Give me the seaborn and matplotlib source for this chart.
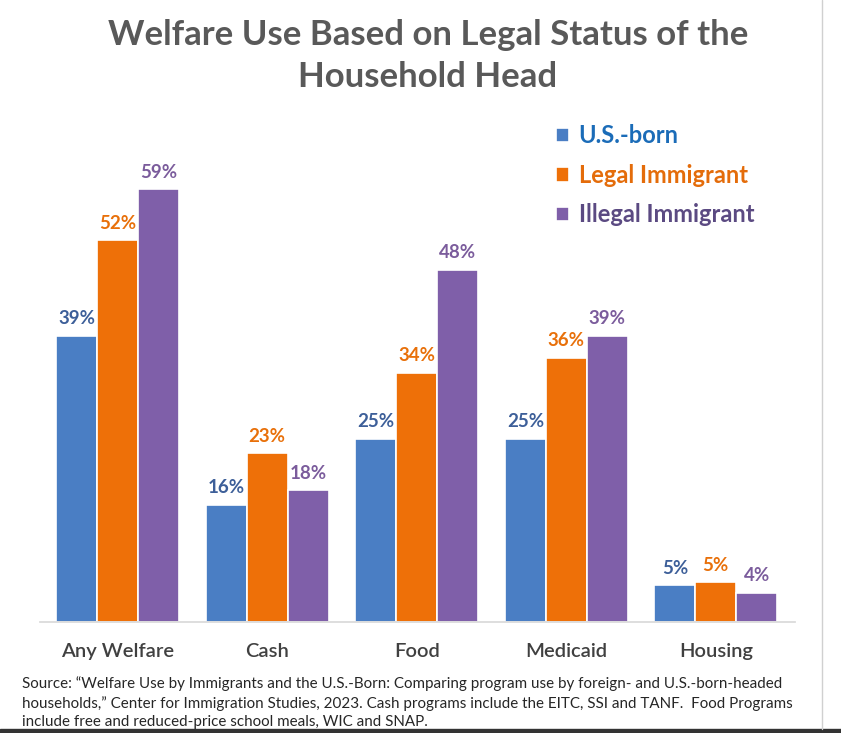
import matplotlib
matplotlib.use("Agg")
import matplotlib.pyplot as plt
import pandas as pd
import seaborn as sns

# Data
categories = ["Any Welfare", "Cash", "Food", "Medicaid", "Housing"]
series = ["U.S.-born", "Legal Immigrant", "Illegal Immigrant"]
us_born = [39, 16, 25, 25, 5]
legal = [52, 23, 34, 36, 5.4]
illegal = [59, 18, 48, 39, 4]
labels_us = ["39%", "16%", "25%", "25%", "5%"]
labels_legal = ["52%", "23%", "34%", "36%", "5%"]
labels_illegal = ["59%", "18%", "48%", "39%", "4%"]

bar_colors = ["#4A7EC4", "#EE7008", "#7F5FA9"]
label_colors = ["#3D5F99", "#E8700A", "#7B5C9C"]
legend_colors = ["#1B6CB8", "#E46C0A", "#5B4A82"]

df = pd.DataFrame({
    "category": categories * 3,
    "series": [s for s in series for _ in categories],
    "value": us_born + legal + illegal,
})

sns.set_theme(style="white")
plt.rcParams["font.family"] = ["Lato", "DejaVu Sans"]

W, H = 841, 733
fig = plt.figure(figsize=(W / 100, H / 100), dpi=100)
ax = fig.add_axes([40 / W, (H - 622) / H, (795 - 40) / W, (622 - 123) / H])

sns.barplot(data=df, x="category", y="value", hue="series", palette=bar_colors,
            width=0.82, edgecolor="white", linewidth=1.2, saturation=1,
            ax=ax, legend=True)

ax.set_ylim(0, 68)
ax.set_xlim(-0.52, 4.53)
ax.set_xlabel("")
ax.set_ylabel("")
ax.set_yticks([])
for side in ["top", "left", "right"]:
    ax.spines[side].set_visible(False)
ax.spines["bottom"].set_color("#D9D9D9")
ax.tick_params(axis="x", length=0, pad=15)
for t in ax.get_xticklabels():
    t.set_fontsize(14.5)
    t.set_color("#404040")
    t.set_fontweight("semibold")

all_labels = [labels_us, labels_legal, labels_illegal]
for cont, labs, col in zip(ax.containers, all_labels, label_colors):
    ax.bar_label(cont, labels=labs, padding=6, color=col,
                 fontsize=13.5, fontweight="bold")

handles, _ = ax.get_legend_handles_labels()
leg = ax.legend(handles, series, loc="upper left", bbox_to_anchor=(535 / W, 1 - 103 / H),
                bbox_transform=fig.transFigure, frameon=False,
                handlelength=0.55, handleheight=0.55, handletextpad=0.4,
                labelspacing=0.7, prop={"size": 17, "weight": "bold"})
for txt, col in zip(leg.get_texts(), legend_colors):
    txt.set_color(col)

fig.text(428 / W, 1 - 56 / H, "Welfare Use Based on Legal Status of the\nHousehold Head",
         ha="center", va="center", fontsize=25, fontweight="bold",
         color="#595959", linespacing=1.42)

source = ("Source: \u201cWelfare Use by Immigrants and the U.S.-Born: Comparing program use by foreign- and U.S.-born-headed\n"
          "households,\u201d Center for Immigration Studies, 2023. Cash programs include the EITC, SSI and TANF.  Food Programs\n"
          "include free and reduced-price school meals, WIC and SNAP.")
fig.text(22 / W, 1 - 676 / H, source, ha="left", va="top", fontsize=10.9,
         color="#262626", linespacing=1.42)

# thin frame line at the right and dark strip at the bottom, as in the screenshot
fig.add_artist(plt.Line2D([822 / W, 822 / W], [4 / H, 1], color="#D0D0D0", lw=1,
                          transform=fig.transFigure))
fig.add_artist(plt.Rectangle((0, 0), 1, 4 / H, color="#333333", transform=fig.transFigure))

fig.savefig("out.png", dpi=100)
